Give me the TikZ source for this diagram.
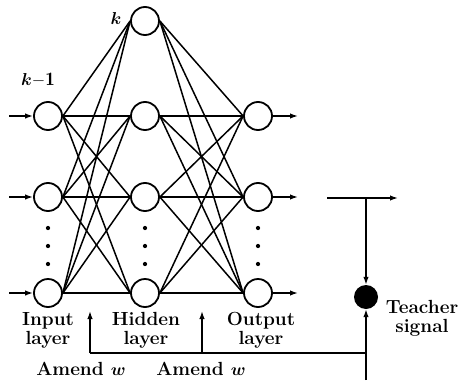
\documentclass[tikz,border=0pt]{standalone}
\usepackage{amsmath,amssymb,bm}
\usepackage{fontspec}
\usepackage{tikz}
\usetikzlibrary{arrows.meta}

\tikzset{
  neuron/.style={draw,circle,line width=1.8pt,minimum size=28pt,inner sep=0pt},
  teacher/.style={fill,circle,minimum size=24pt,inner sep=0pt},
  link/.style={line width=1.5pt},
  sig/.style={line width=1.5pt,-{Latex[length=8pt,width=5.5pt]}},
  dot/.style={fill,circle,inner sep=1.5pt},
  lbl/.style={font=\fontsize{19}{19}\selectfont\bfseries,align=center,inner sep=0pt}
}

\begin{document}
\begin{tikzpicture}[x=1pt,y=-1pt]
\useasboundingbox (0,0) rectangle (466,383);
% neurons
\node[neuron] (in1) at (48,116) {};
\node[neuron] (in2) at (48,197) {};
\node[neuron] (in3) at (48,293) {};
\node[neuron] (hid1) at (145,21) {};
\node[neuron] (hid2) at (145,116) {};
\node[neuron] (hid3) at (145,197) {};
\node[neuron] (hid4) at (145,293) {};
\node[neuron] (out1) at (258,116) {};
\node[neuron] (out2) at (258,197) {};
\node[neuron] (out3) at (258,293) {};
\node[teacher] (teach) at (366,297) {};
% dots
\node[dot] (dinA) at (48,228) {};
\node[dot] (dinB) at (48,246) {};
\node[dot] (dinC) at (48,264) {};
\node[dot] (dhidA) at (145,228) {};
\node[dot] (dhidB) at (145,246) {};
\node[dot] (dhidC) at (145,264) {};
\node[dot] (doutA) at (258,228) {};
\node[dot] (doutB) at (258,246) {};
\node[dot] (doutC) at (258,264) {};
% input to hidden
\draw[link] (in1.east) -- (hid1.west);
\draw[link] (in1.east) -- (hid2.west);
\draw[link] (in1.east) -- (hid3.west);
\draw[link] (in1.east) -- (hid4.west);
\draw[link] (in2.east) -- (hid1.west);
\draw[link] (in2.east) -- (hid2.west);
\draw[link] (in2.east) -- (hid3.west);
\draw[link] (in2.east) -- (hid4.west);
\draw[link] (in3.east) -- (hid1.west);
\draw[link] (in3.east) -- (hid2.west);
\draw[link] (in3.east) -- (hid3.west);
\draw[link] (in3.east) -- (hid4.west);
% hidden to output
\draw[link] (hid1.east) -- (out1.west);
\draw[link] (hid1.east) -- (out2.west);
\draw[link] (hid1.east) -- (out3.west);
\draw[link] (hid2.east) -- (out1.west);
\draw[link] (hid2.east) -- (out2.west);
\draw[link] (hid2.east) -- (out3.west);
\draw[link] (hid3.east) -- (out1.west);
\draw[link] (hid3.east) -- (out2.west);
\draw[link] (hid3.east) -- (out3.west);
\draw[link] (hid4.east) -- (out1.west);
\draw[link] (hid4.east) -- (out2.west);
\draw[link] (hid4.east) -- (out3.west);
% inputs and outputs
\coordinate (x1) at (9,116);
\coordinate (x2) at (9,197);
\coordinate (x3) at (9,293);
\coordinate (y1) at (298,116);
\coordinate (y2) at (298,197);
\coordinate (y3) at (298,293);
\draw[sig] (x1) -- (in1);
\draw[sig] (x2) -- (in2);
\draw[sig] (x3) -- (in3);
\draw[sig] (out1) -- (y1);
\draw[sig] (out2) -- (y2);
\draw[sig] (out3) -- (y3);
% teacher signal and error feedback
\coordinate (errIn) at (327,198);
\coordinate (errOut) at (398,198);
\coordinate (tap) at (366,198);
\coordinate (tsig) at (366,380);
\coordinate (fb) at (366,353);
\coordinate (fbA) at (90,353);
\coordinate (fbB) at (202,353);
\coordinate (amA) at (90,311);
\coordinate (amB) at (202,311);
\draw[sig] (errIn) -- (errOut);
\draw[sig] (tap) -- (teach);
\draw[sig] (tsig) -- (teach);
\draw[link] (fbA) -- (fb);
\draw[sig] (fbA) -- (amA);
\draw[sig] (fbB) -- (amB);
% labels
\node[lbl] (kTop) at (116,18) {$\bm{k}$};
\node[lbl] (kPrev) at (38,80) {$\bm{k}\mathbf{-1}$};
\node[lbl] (inLbl) at (48,330) {Input\\layer};
\node[lbl] (hidLbl) at (146,330) {Hidden\\layer};
\node[lbl] (outLbl) at (261,330) {Output\\layer};
\node[lbl] (amLblA) at (81,369) {Amend $\bm{w}$};
\node[lbl] (amLblB) at (201,369) {Amend $\bm{w}$};
\node[lbl] (teachLbl) at (422,318) {Teacher\\signal};
\end{tikzpicture}
\end{document}
